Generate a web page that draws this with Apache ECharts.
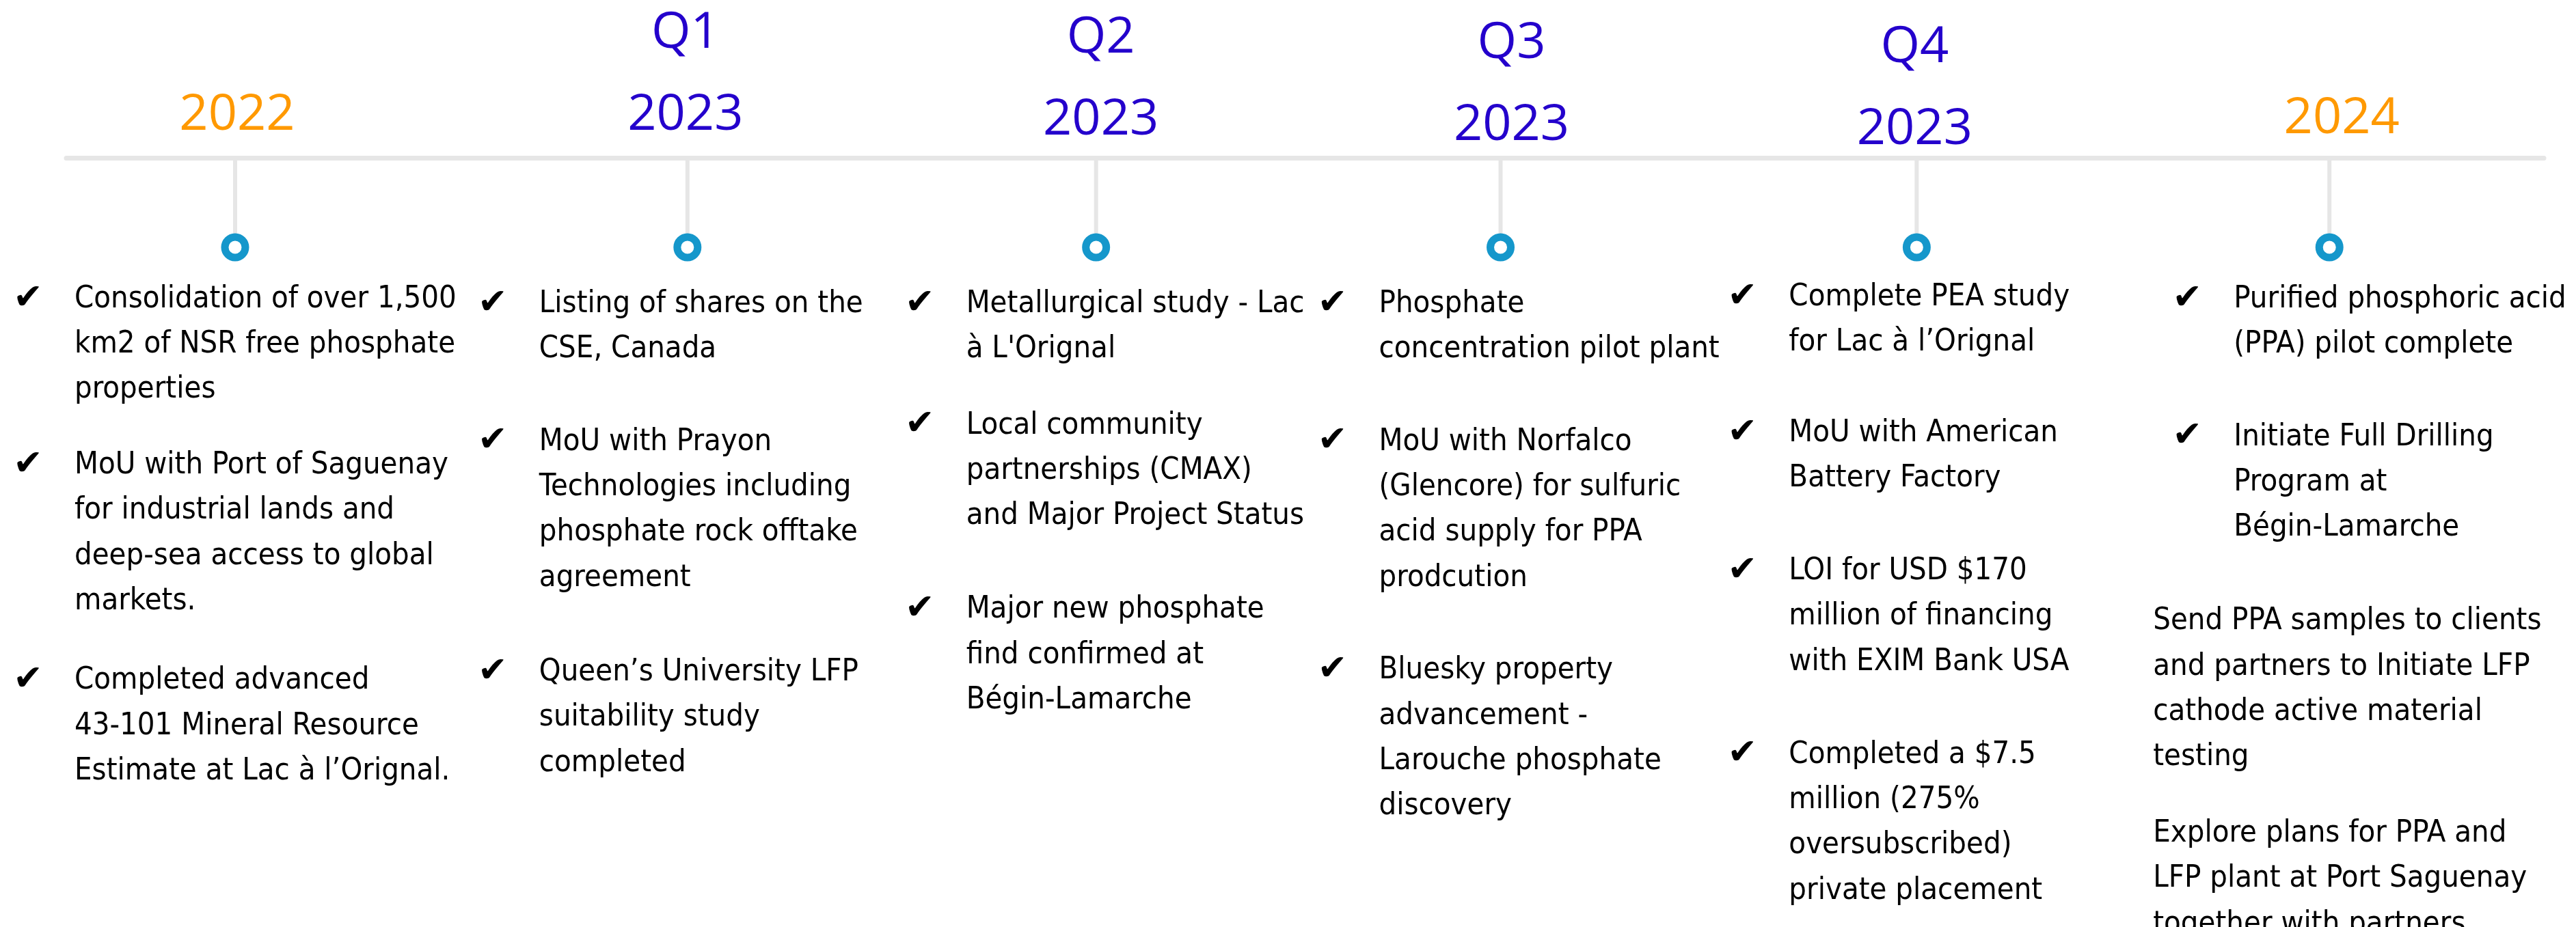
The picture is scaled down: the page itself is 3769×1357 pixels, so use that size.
<!DOCTYPE html>
<html><head><meta charset="utf-8">
<script src="https://cdn.jsdelivr.net/npm/echarts@6/dist/echarts.min.js"></script>
<style>html,body{margin:0;padding:0;background:#fff;}#chart{width:3769px;height:1357px;}</style>
</head><body><div id="chart"></div>
<script>
// ---------------- DATA ----------------
const periods = ['2022', 'Q1 2023', 'Q2 2023', 'Q3 2023', 'Q4 2023', '2024'];
const quarterLabels = ['', 'Q1', 'Q2', 'Q3', 'Q4', ''];
const yearLabels = ['2022', '2023', '2023', '2023', '2023', '2024'];
const isQuarter = [false, true, true, true, true, false];

const milestones2022 = [
  'Consolidation of over 1,500\nkm2 of NSR free phosphate\nproperties',
  'MoU with Port of Saguenay\nfor industrial lands and\ndeep-sea access to global\nmarkets.',
  'Completed advanced\n43-101 Mineral Resource\nEstimate at Lac à l’Orignal.'
];
const milestonesQ1 = [
  'Listing of shares on the\nCSE, Canada',
  'MoU with Prayon\nTechnologies including\nphosphate rock offtake\nagreement',
  'Queen’s University LFP\nsuitability study\ncompleted'
];
const milestonesQ2 = [
  "Metallurgical study - Lac\nà L'Orignal",
  'Local community\npartnerships (CMAX)\nand Major Project Status',
  'Major new phosphate\nfind confirmed at\nBégin-Lamarche'
];
const milestonesQ3 = [
  'Phosphate\nconcentration pilot plant',
  'MoU with Norfalco\n(Glencore) for sulfuric\nacid supply for PPA\nprodcution',
  'Bluesky property\nadvancement -\nLarouche phosphate\ndiscovery'
];
const milestonesQ4 = [
  'Complete PEA study\nfor Lac à l’Orignal',
  'MoU with American\nBattery Factory',
  'LOI for USD $170\nmillion of financing\nwith EXIM Bank USA',
  'Completed a $7.5\nmillion (275%\noversubscribed)\nprivate placement'
];
const milestones2024 = [
  'Purified phosphoric acid\n(PPA) pilot complete',
  'Initiate Full Drilling\nProgram at\nBégin-Lamarche',
  'Send PPA samples to clients\nand partners to Initiate LFP\ncathode active material\ntesting',
  'Explore plans for PPA and\nLFP plant at Port Saguenay\ntogether with partners'
];
const completed2022 = [true, true, true];
const completedQ1 = [true, true, true];
const completedQ2 = [true, true, true];
const completedQ3 = [true, true, true];
const completedQ4 = [true, true, true, true];
const completed2024 = [true, true, false, false];

const milestones = [milestones2022, milestonesQ1, milestonesQ2, milestonesQ3, milestonesQ4, milestones2024];
const completed = [completed2022, completedQ1, completedQ2, completedQ3, completedQ4, completed2024];

// ---------------- LAYOUT / STYLE ----------------
const AXIS_Y = 231;
const L = {
  lineColor: '#e6e6e6', lineWidth: 7, stemWidth: 6,
  dotY: 131, dotR: 15, dotStroke: 11, dotColor: '#1597cb',
  stemDx: [0, 49, 34, 13, 9, 0],
  headDx: [3, 46, 41, 29, 6, 18],
  yearBase: [-25, -25, -18, -10, -4, -20],
  qGap: 120,
  yearColor: '#ff9900', quarterColor: '#2400cc',
  headFont: "'Open Sans', sans-serif", headSize: 74,
  checkDx: [-303, -236, -224, -233, -246, -208],
  textIndent: 68, plainIndent: -50,
  firstLine: [207, 214, 214, 214, 204, 207],
  lineH: 66.4,
  gaps: [[0.66, 0.75], [1.04, 1.08], [0.68, 1.06], [1.04, 1.04], [1.0, 1.04, 1.05], [1.04, 1.06, 0.68]],
  bodyFont: "'DejaVu Sans Condensed', 'DejaVu Sans', sans-serif", bodySize: 45,
  checkFont: "'DejaVu Sans', sans-serif", checkSize: 52
};

const chart = echarts.init(document.getElementById('chart'), null, { renderer: 'canvas' });
const colData = periods.map((p, i) => [i, 0]);

function stemItem(params, api) {
  const i = api.value(0);
  const a = api.coord([i, 0]);
  const b = api.coord([i, L.dotY]);
  const x = a[0] + L.stemDx[i];
  return {
    type: 'group',
    children: [
      { type: 'line', shape: { x1: x, y1: a[1], x2: x, y2: b[1] - L.dotR },
        style: { stroke: L.lineColor, lineWidth: L.stemWidth } },
      { type: 'circle', shape: { cx: x, cy: b[1], r: L.dotR },
        style: { fill: '#fff', stroke: L.dotColor, lineWidth: L.dotStroke } }
    ]
  };
}

function headItem(params, api) {
  const i = api.value(0);
  const a = api.coord([i, L.yearBase[i]]);
  const x = a[0] + L.headDx[i];
  const children = [
    { type: 'text', x: x, y: a[1],
      style: { text: yearLabels[i], fill: isQuarter[i] ? L.quarterColor : L.yearColor,
        fontSize: L.headSize, fontFamily: L.headFont, align: 'center', verticalAlign: 'bottom' } }
  ];
  if (quarterLabels[i]) {
    children.push({ type: 'text', x: x, y: a[1] - L.qGap,
      style: { text: quarterLabels[i], fill: L.quarterColor,
        fontSize: L.headSize, fontFamily: L.headFont, align: 'center', verticalAlign: 'bottom' } });
  }
  return { type: 'group', children: children };
}

function bodyItem(params, api) {
  const i = api.value(0);
  const base = api.coord([i, L.firstLine[i]]);
  const cx = base[0] + L.checkDx[i];
  let y = base[1];
  const children = [];
  milestones[i].forEach((txt, k) => {
    const nLines = txt.split('\n').length;
    if (completed[i][k]) {
      children.push({ type: 'text', x: cx, y: y,
        style: { text: '✔', fill: '#000', fontSize: L.checkSize, fontFamily: L.checkFont,
          align: 'center', verticalAlign: 'middle' } });
    }
    const tx = cx + (completed[i][k] ? L.textIndent : L.plainIndent);
    children.push({ type: 'text', x: tx, y: y - L.lineH / 2,
      style: { text: txt, fill: '#000', fontSize: L.bodySize, fontFamily: L.bodyFont,
        lineHeight: L.lineH, align: 'left', verticalAlign: 'top' } });
    y += (nLines + (L.gaps[i][k] || 0)) * L.lineH;
  });
  return { type: 'group', children: children };
}

chart.setOption({
  animation: false,
  backgroundColor: '#fff',
  grid: { left: 97, right: 47, top: 0, bottom: 0 },
  xAxis: {
    type: 'value', min: -0.403, max: 5.512,
    axisLine: { show: true, onZero: true, lineStyle: { color: L.lineColor, width: L.lineWidth } },
    axisTick: { show: false }, axisLabel: { show: false }, splitLine: { show: false }
  },
  yAxis: {
    type: 'value', min: -AXIS_Y, max: 1357 - AXIS_Y, inverse: true,
    axisLine: { show: false }, axisTick: { show: false }, axisLabel: { show: false }, splitLine: { show: false }
  },
  series: [
    { type: 'custom', name: 'stems', renderItem: stemItem, data: colData, silent: true, clip: false },
    { type: 'custom', name: 'headers', renderItem: headItem, data: colData, silent: true, clip: false },
    { type: 'custom', name: 'milestones', renderItem: bodyItem, data: colData, silent: true, clip: false }
  ]
});
</script></body></html>
